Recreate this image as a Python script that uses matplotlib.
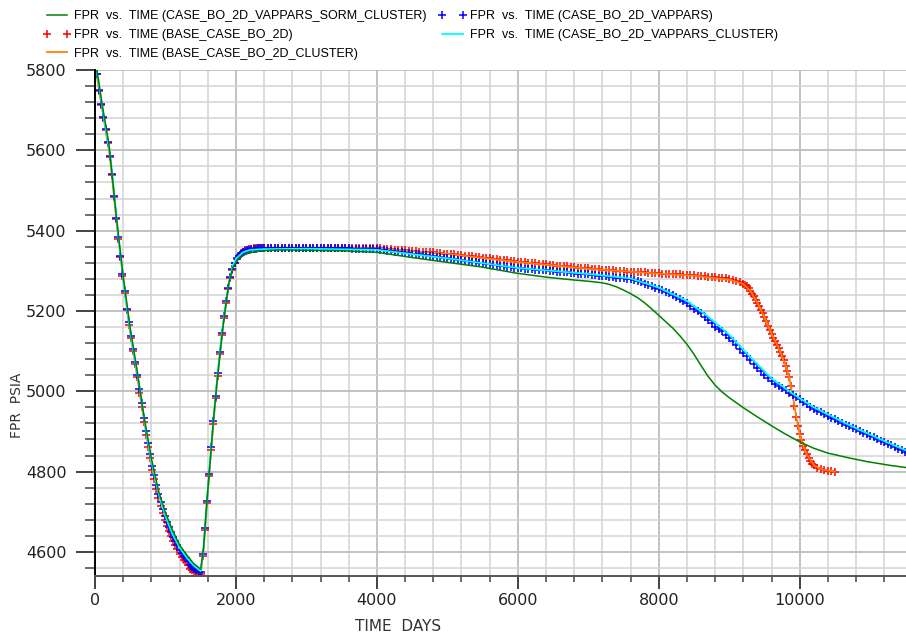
import numpy as np
import matplotlib.pyplot as plt
from matplotlib.ticker import MultipleLocator


# ---- data (TIME in days, FPR in psia)

# green line: CASE_BO_2D_VAPPARS_SORM_CLUSTER
t_sorm = [0, 25, 50, 100, 200, 300, 400, 500, 600, 700, 800, 900, 1000, 1100,
          1200, 1300, 1400, 1500, 1540, 1585, 1632, 1679, 1727, 1775, 1820,
          1860, 1900, 1960, 2050, 2150, 2250, 2400, 2625, 3000, 3500, 4000,
          4500, 5000, 5463, 5984, 6410, 6800, 7000, 7200, 7300, 7400, 7500,
          7600, 7700, 7800, 7900, 8000, 8100, 8200, 8300, 8400, 8500, 8600,
          8700, 8800, 8900, 9000, 9200, 9400, 9600, 9800, 10000, 10200, 10400,
          10700, 10950, 11300, 11600]
p_sorm = [5815, 5800, 5775, 5716, 5613, 5440, 5286, 5157, 5049, 4932, 4833,
          4753, 4697, 4654, 4617, 4593, 4571, 4557, 4610, 4720, 4820, 4925,
          5015, 5095, 5165, 5220, 5270, 5310, 5333, 5342, 5347, 5350, 5352,
          5351, 5350, 5346, 5333, 5321, 5310, 5294, 5284, 5277, 5274, 5270,
          5266, 5260, 5252, 5243, 5233, 5220, 5205, 5189, 5173, 5157, 5138,
          5117, 5092, 5064, 5037, 5015, 4998, 4984, 4959, 4936, 4914, 4893,
          4874, 4858, 4846, 4834, 4825, 4815, 4808]

# red markers: BASE_CASE_BO_2D
t_base = [0, 30, 60, 90, 120, 150, 180, 210, 240, 270, 300, 330, 360, 390,
          420, 450, 480, 510, 540, 570, 600, 630, 660, 690, 720, 750, 780,
          810, 840, 870, 900, 930, 960, 990, 1020, 1050, 1080, 1110, 1140,
          1170, 1200, 1230, 1260, 1290, 1320, 1350, 1380, 1410, 1440, 1470,
          1500, 1530, 1560, 1590, 1620, 1650, 1680, 1710, 1740, 1770, 1800,
          1830, 1860, 1890, 1920, 1950, 1980, 2010, 2040, 2070, 2100, 2130,
          2160, 2190, 2220, 2250, 2280, 2310, 2340, 2370, 2400,
          2450, 2500, 2550, 2600, 2650, 2700, 2750, 2800, 2850, 2900, 2950,
          3000, 3050, 3100, 3150, 3200, 3250, 3300, 3350, 3400, 3450, 3500,
          3550, 3600, 3650, 3700, 3750, 3800, 3850, 3900, 3950, 4000, 4050,
          4100, 4150, 4200, 4250, 4300, 4350, 4400, 4450, 4500, 4550, 4600,
          4650, 4700, 4750, 4800, 4850, 4900, 4950, 5000, 5050, 5100, 5150,
          5200, 5250, 5300, 5350, 5400, 5450, 5500, 5550, 5600, 5650, 5700,
          5750, 5800, 5850, 5900, 5950, 6000, 6050, 6100, 6150, 6200, 6250,
          6300, 6350, 6400, 6450, 6500, 6550, 6600, 6650, 6700, 6750, 6800,
          6850, 6900, 6950, 7000, 7050, 7100, 7150, 7200, 7250, 7300, 7350,
          7400, 7450, 7500, 7550, 7600, 7650, 7700, 7750, 7800, 7850, 7900,
          7950, 8000, 8050, 8100, 8150, 8200, 8250, 8300, 8350, 8400, 8450,
          8500, 8550, 8600, 8650, 8700, 8750, 8800, 8850, 8900, 8950, 9000,
          9050, 9100, 9150, 9200, 9225, 9250, 9275, 9300, 9325, 9350, 9375,
          9400, 9425, 9450, 9475, 9500, 9525, 9550, 9575, 9600, 9625, 9650,
          9675, 9700, 9725, 9750, 9775, 9800, 9825, 9850, 9875, 9900, 9925,
          9950, 9975, 10000, 10025, 10050, 10075, 10100, 10125, 10150, 10175,
          10200, 10250, 10300, 10350, 10400, 10450, 10500]
p_base = [5812, 5790, 5748, 5714, 5681, 5650, 5619, 5583, 5538, 5483, 5428,
          5380, 5334, 5288, 5245, 5202, 5166, 5132, 5100, 5067, 5035, 4995,
          4960, 4924, 4890, 4860, 4833, 4805, 4781, 4757, 4733, 4714, 4697,
          4680, 4664, 4652, 4640, 4628, 4617, 4606, 4595, 4588, 4581, 4574,
          4567, 4558, 4554, 4551, 4549, 4546, 4545, 4589, 4654, 4722, 4789,
          4854, 4919, 4982, 5039, 5092, 5140, 5183, 5220, 5254, 5282, 5303,
          5319, 5330, 5338, 5344, 5348, 5351, 5353, 5354, 5355, 5356, 5356,
          5357, 5357, 5357, 5357,
          5357, 5357, 5358, 5358, 5358, 5358, 5358, 5358, 5358, 5358, 5358,
          5358, 5358, 5358, 5358, 5358, 5358, 5358, 5358, 5358, 5358, 5358,
          5358, 5358, 5358, 5358, 5358, 5357, 5357, 5357, 5357, 5357, 5356,
          5355, 5355, 5354, 5353, 5352, 5352, 5351, 5350, 5350, 5349, 5348,
          5347, 5347, 5346, 5346, 5345, 5344, 5343, 5343, 5342, 5341, 5340,
          5339, 5338, 5337, 5336, 5335, 5334, 5333, 5332, 5331, 5330, 5329,
          5328, 5327, 5326, 5325, 5324, 5323, 5322, 5321, 5320, 5320, 5319,
          5318, 5317, 5316, 5315, 5314, 5313, 5313, 5312, 5311, 5310, 5309,
          5308, 5308, 5307, 5306, 5305, 5305, 5304, 5303, 5302, 5302, 5301,
          5300, 5299, 5299, 5298, 5298, 5297, 5297, 5296, 5296, 5295, 5295,
          5294, 5294, 5293, 5293, 5292, 5292, 5291, 5291, 5290, 5290, 5289,
          5289, 5288, 5287, 5286, 5285, 5284, 5284, 5283, 5282, 5281, 5279,
          5277, 5275, 5272, 5268, 5265, 5262, 5256, 5250, 5243, 5236, 5228,
          5220, 5212, 5203, 5194, 5184, 5174, 5163, 5153, 5143, 5133, 5124,
          5116, 5108, 5098, 5088, 5077, 5064, 5050, 5035, 5013, 4990, 4963,
          4937, 4914, 4893, 4878, 4864, 4853, 4843, 4834, 4826, 4820,
          4816, 4810, 4806, 4803, 4802, 4801, 4800]

# orange line: BASE_CASE_BO_2D_CLUSTER
t_base_cl = [0, 120, 210, 330, 480, 640, 800, 1000, 1200, 1400, 1500, 1540,
             1630, 1725, 1815, 1905, 2000, 2150, 2400, 3000, 4000, 5000, 6000,
             7000, 8000, 8500, 9000, 9200, 9300, 9400, 9500, 9600, 9700, 9800,
             9850, 9900, 9950, 10000, 10050, 10100, 10200, 10300, 10500]
p_base_cl = [5812, 5682, 5586, 5382, 5168, 4990, 4815, 4677, 4600, 4558, 4547,
             4603, 4816, 5012, 5163, 5273, 5330, 5352, 5356, 5357, 5356, 5342,
             5322, 5305, 5293, 5288, 5278, 5267, 5250, 5220, 5184, 5143, 5108,
             5064, 5035, 4990, 4937, 4893, 4864, 4843, 4816, 4806, 4800]

# blue markers: CASE_BO_2D_VAPPARS
t_vap = [0, 30, 60, 90, 120, 150, 180, 210, 240, 270, 300, 330, 360, 390,
         420, 450, 480, 510, 540, 570, 600, 630, 660, 690, 720, 750, 780,
         810, 840, 870, 900, 930, 960, 990, 1020, 1050, 1080, 1110, 1140,
         1170, 1200, 1230, 1260, 1290, 1320, 1350, 1380, 1410, 1440, 1470,
         1500, 1530, 1560, 1590, 1620, 1650, 1680, 1710, 1740, 1770, 1800,
         1830, 1860, 1890, 1920, 1950, 1980, 2010, 2040, 2070, 2100, 2130,
         2160, 2190, 2220, 2250, 2280, 2310, 2340, 2370, 2400,
         2450, 2500, 2550, 2600, 2650, 2700, 2750, 2800, 2850, 2900, 2950,
         3000, 3050, 3100, 3150, 3200, 3250, 3300, 3350, 3400, 3450, 3500,
         3550, 3600, 3650, 3700, 3750, 3800, 3850, 3900, 3950, 4000, 4050,
         4100, 4150, 4200, 4250, 4300, 4350, 4400, 4450, 4500, 4550, 4600,
         4650, 4700, 4750, 4800, 4850, 4900, 4950, 5000, 5050, 5100, 5150,
         5200, 5250, 5300, 5350, 5400, 5450, 5500, 5550, 5600, 5650, 5700,
         5750, 5800, 5850, 5900, 5950, 6000, 6050, 6100, 6150, 6200, 6250,
         6300, 6350, 6400, 6450, 6500, 6550, 6600, 6650, 6700, 6750, 6800,
         6850, 6900, 6950, 7000, 7050, 7100, 7150, 7200, 7250, 7300, 7350,
         7400, 7450, 7500, 7550, 7600, 7650, 7700, 7750, 7800, 7850, 7900,
         7950, 8000, 8050, 8100, 8150, 8200, 8250, 8300, 8350, 8400, 8450,
         8500, 8550, 8600, 8650, 8700, 8750, 8800, 8850, 8900, 8950, 9000,
         9050, 9100, 9150, 9200, 9250, 9300, 9350, 9400, 9450, 9500, 9550,
         9600, 9650, 9700, 9750, 9800, 9850, 9900, 9950, 10000, 10050, 10100,
         10150, 10200, 10250, 10300, 10350, 10400, 10450, 10500, 10550,
         10600, 10650, 10700, 10750, 10800, 10850, 10900, 10950, 11000,
         11050, 11100, 11150, 11200, 11250, 11300, 11350, 11400, 11450,
         11500, 11550, 11600]
p_vap = [5812, 5790, 5750, 5716, 5683, 5652, 5621, 5585, 5542, 5487, 5432,
         5384, 5338, 5292, 5249, 5206, 5172, 5138, 5106, 5073, 5041, 5005,
         4970, 4934, 4900, 4870, 4843, 4815, 4791, 4767, 4743, 4724, 4707,
         4690, 4674, 4662, 4650, 4638, 4627, 4616, 4605, 4598, 4591, 4584,
         4577, 4568, 4562, 4557, 4555, 4551, 4549, 4595, 4660, 4728, 4795,
         4860, 4925, 4988, 5045, 5098, 5145, 5188, 5225, 5258, 5285, 5305,
         5320, 5331, 5338, 5343, 5347, 5350, 5352, 5353, 5354, 5355, 5355,
         5356, 5356, 5356, 5356,
         5356, 5356, 5357, 5357, 5357, 5357, 5357, 5357, 5357, 5357, 5357,
         5357, 5357, 5357, 5357, 5357, 5356, 5356, 5356, 5356, 5356, 5356,
         5356, 5356, 5355, 5355, 5355, 5355, 5354, 5354, 5354, 5354, 5352,
         5351, 5350, 5349, 5348, 5347, 5346, 5345, 5344, 5343, 5342, 5341,
         5340, 5339, 5338, 5337, 5335, 5334, 5333, 5332, 5330, 5329, 5327,
         5326, 5325, 5324, 5322, 5321, 5320, 5319, 5317, 5316, 5315, 5314,
         5313, 5312, 5310, 5309, 5308, 5307, 5306, 5305, 5304, 5304, 5303,
         5302, 5301, 5301, 5300, 5299, 5298, 5297, 5296, 5296, 5295, 5294,
         5293, 5293, 5292, 5291, 5290, 5289, 5288, 5287, 5286, 5285, 5284,
         5283, 5282, 5281, 5280, 5279, 5277, 5274, 5271, 5268, 5265, 5261,
         5258, 5254, 5251, 5248, 5244, 5240, 5235, 5230, 5225, 5219, 5213,
         5206, 5200, 5194, 5186, 5178, 5170, 5161, 5155, 5149, 5141, 5133,
         5124, 5115, 5106, 5096, 5087, 5077, 5068, 5059, 5050, 5041, 5033,
         5026, 5019, 5013, 5007, 5002, 4996, 4991, 4985, 4980, 4974, 4968,
         4962, 4957, 4952, 4948, 4943, 4939, 4934, 4930, 4925,
         4921, 4917, 4913, 4909, 4905, 4901, 4897, 4893, 4889,
         4885, 4881, 4877, 4873, 4869, 4865, 4861, 4857, 4853,
         4849, 4846, 4842]

# cyan line: CASE_BO_2D_VAPPARS_CLUSTER
t_vap_cl = [0, 30, 60, 90, 120, 150, 180, 210, 240, 270, 300, 330, 360, 400,
            440, 480, 520, 560, 600, 640, 680, 720, 760, 800, 850, 900, 950,
            1000, 1100, 1200, 1300, 1400, 1500, 1540, 1585, 1630, 1680, 1725,
            1770, 1815, 1860, 1905, 1950, 2000, 2100, 2200, 2400, 3000, 4000,
            5000, 6000, 7000, 7600, 8000, 8400, 8700, 9000, 9300, 9600, 9900,
            10200, 10700, 11200, 11600]
p_vap_cl = [5812, 5790, 5758, 5722, 5687, 5655, 5624, 5595, 5550, 5497, 5441,
            5386, 5341, 5282, 5225, 5174, 5128, 5084, 5043, 5001, 4954, 4906,
            4865, 4827, 4785, 4748, 4716, 4689, 4644, 4611, 4586, 4566, 4552,
            4608, 4720, 4820, 4928, 5015, 5096, 5165, 5224, 5274, 5310, 5330,
            5346, 5352, 5354, 5355, 5352, 5331, 5307, 5292, 5281, 5258, 5225,
            5186, 5141, 5085, 5032, 4994, 4960, 4916, 4876, 4846]

labels = ['FPR  vs.  TIME (CASE_BO_2D_VAPPARS_SORM_CLUSTER)',
          'FPR  vs.  TIME (BASE_CASE_BO_2D)',
          'FPR  vs.  TIME (BASE_CASE_BO_2D_CLUSTER)',
          'FPR  vs.  TIME (CASE_BO_2D_VAPPARS)',
          'FPR  vs.  TIME (CASE_BO_2D_VAPPARS_CLUSTER)']


fig = plt.figure(figsize=(9.06, 6.36), dpi=100)
ax = fig.add_axes([95/906, 60/636, 811/906, 506/636])

h_red, = ax.plot(t_base, p_base, ls='none', marker='+', ms=5.5, mew=1.1,
                 color='#ff0000')
h_orange, = ax.plot(t_base_cl, p_base_cl, color='#ff8000', lw=1.3)
h_blue, = ax.plot(t_vap, p_vap, ls='none', marker='+', ms=5.5, mew=1.1,
                  color='#0000ff')
h_cyan, = ax.plot(t_vap_cl, p_vap_cl, color='#00ffff', lw=1.3)
h_green, = ax.plot(t_sorm, p_sorm, color='#008000', lw=1.1)

ax.set_xlim(0, 11508)
ax.set_ylim(4540, 5800)

ax.xaxis.set_major_locator(MultipleLocator(2000))
ax.xaxis.set_minor_locator(MultipleLocator(400))
ax.yaxis.set_major_locator(MultipleLocator(200))
ax.yaxis.set_minor_locator(MultipleLocator(40))

ax.set_axisbelow(True)
ax.grid(which='major', color='#bdbdbd', lw=1.3)
ax.grid(which='minor', color='#d3d3d3', lw=1.1)

for s in ['top', 'right']:
    ax.spines[s].set_visible(False)
ax.spines['left'].set_color('black')
ax.spines['left'].set_linewidth(1.4)
ax.spines['bottom'].set_color('#555555')
ax.spines['bottom'].set_linewidth(1.4)

ax.tick_params(axis='y', which='major', length=13.5, width=1.2, pad=7,
               labelsize=11.5, colors='#222222')
ax.tick_params(axis='y', which='minor', length=7, width=1.1, color='#444444')
ax.tick_params(axis='x', which='major', length=9, width=1.2, pad=3,
               labelsize=11.5, colors='#222222')
ax.tick_params(axis='x', which='minor', length=4.5, width=1.1, color='#444444')

ax.set_xlabel('TIME  DAYS', fontsize=11, color='#333333')
ax.xaxis.set_label_coords(0.374, -0.085)
ax.set_ylabel('FPR  PSIA', fontsize=10, color='#333333')
ax.yaxis.set_label_coords(-0.088, 0.338)

fig.legend([h_green, h_red, h_orange, h_blue, h_cyan], labels, ncol=2,
           loc='upper left', bbox_to_anchor=(43/906, 1 - 10/636),
           frameon=False, prop={'family': 'Liberation Sans', 'size': 9},
           handlelength=2.25, handletextpad=0.25, labelspacing=0.55,
           columnspacing=0.95, borderpad=0, borderaxespad=0, numpoints=2)

fig.savefig('out.png', dpi=100)
